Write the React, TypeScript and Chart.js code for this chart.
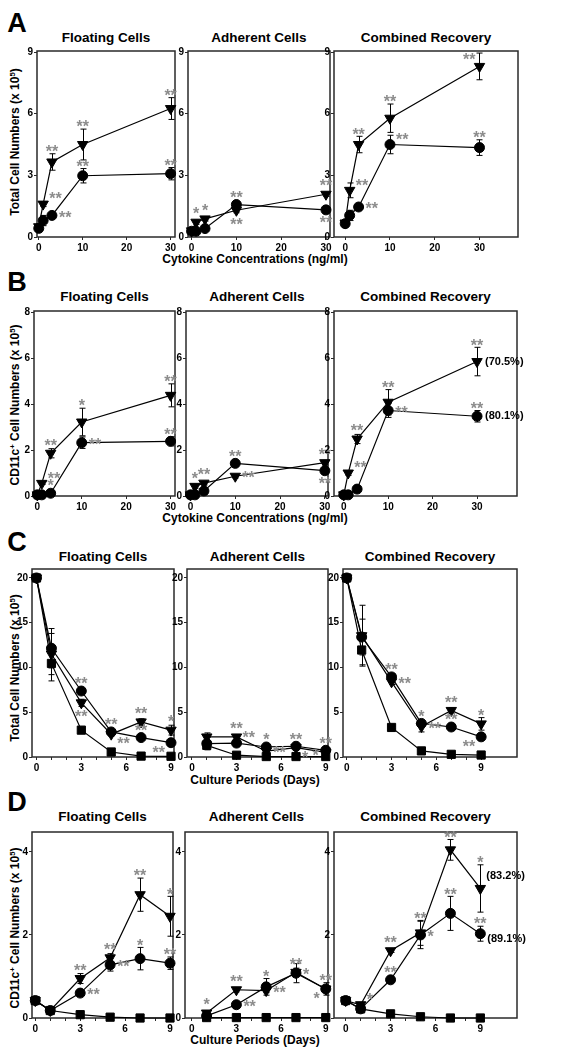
import React, { useEffect, useRef } from 'react';
import { Chart, registerables } from 'chart.js';

Chart.register(...registerables);

const FONT = "'Liberation Sans', Arial, Helvetica, sans-serif";

// ---------- categories ----------
const concentrations = [0, 1, 3, 10, 30];
const cultureDays = [0, 1, 3, 5, 7, 9];
const adherentDays = [1, 3, 5, 7, 9];

// ---------- tick values ----------
const concTicks = [0, 10, 20, 30];
const concTickLabels = [0, 10, 20, 30];
const dayTicks = [0, 1, 2, 3, 4, 5, 6, 7, 8, 9];
const dayTickLabels = [0, 3, 6, 9];
const totalTicksA = [0, 3, 6, 9];
const cd11cTicksB = [0, 2, 4, 6, 8];
const totalTicksC = [0, 5, 10, 15, 20];
const cd11cTicksD = [0, 2, 4];

// ---------- texts ----------
const panelTitles = ['Floating Cells', 'Adherent Cells', 'Combined Recovery'];
const rowLetters = ['A', 'B', 'C', 'D'];
const xTitleConc = 'Cytokine Concentrations (ng/ml)';
const xTitleDays = 'Culture Periods (Days)';

// ---------- A: total cells vs concentration ----------
const aFloTri = [0.5, 1.6, 3.65, 4.5, 6.25];
const aFloTriErr = [0.05, 0.12, 0.4, 0.75, 0.53];
const aFloTriSig = ['', '**', '**', '**', '**'];
const aFloCir = [0.42, 0.8, 1.05, 2.98, 3.08];
const aFloCirErr = [0.05, 0.25, 0.08, 0.35, 0.3];
const aFloCirSig = ['', '', '**', '**', '**'];

const aAdhTri = [0.3, 0.72, 0.88, 1.3, 2.08];
const aAdhTriErr = [0.05, 0.1, 0.1, 0.12, 0.1];
const aAdhTriSig = ['', '*', '*', '**', '**'];
const aAdhCir = [0.28, 0.28, 0.41, 1.58, 1.32];
const aAdhCirErr = [0.05, 0.05, 0.1, 0.1, 0.08];
const aAdhCirSig = ['', '', '', '**', '**'];

const aComTri = [0.68, 2.27, 4.5, 5.78, 8.3];
const aComTriErr = [0.05, 0.36, 0.4, 0.69, 0.65];
const aComTriSig = ['', '**', '**', '**', '**'];
const aComCir = [0.65, 1.05, 1.46, 4.5, 4.35];
const aComCirErr = [0.05, 0.25, 0.12, 0.45, 0.38];
const aComCirSig = ['', '', '**', '**', '**'];

// ---------- B: CD11c+ cells vs concentration ----------
const bFloTri = [0.05, 0.55, 1.86, 3.22, 4.38];
const bFloTriErr = [0.03, 0.05, 0.2, 0.6, 0.5];
const bFloTriSig = ['', '**', '**', '*', '**'];
const bFloCir = [0.05, 0.05, 0.12, 2.32, 2.38];
const bFloCirErr = [0.03, 0.03, 0.05, 0.25, 0.2];
const bFloCirSig = ['', '', '*', '**', '**'];

const bAdhTri = [0.05, 0.42, 0.56, 0.86, 1.45];
const bAdhTriErr = [0.03, 0.08, 0.08, 0.08, 0.1];
const bAdhTriSig = ['', '*', '**', '**', '**'];
const bAdhCir = [0.05, 0.05, 0.22, 1.42, 1.1];
const bAdhCirErr = [0.03, 0.03, 0.15, 0.08, 0.15];
const bAdhCirSig = ['', '', '', '**', '**'];

const bComTri = [0.05, 1.0, 2.48, 4.08, 5.85];
const bComTriErr = [0.03, 0.1, 0.2, 0.55, 0.62];
const bComTriSig = ['', '**', '**', '**', '**'];
const bComTriNote = ['', '', '', '', '(70.5%)'];
const bComCir = [0.05, 0.05, 0.3, 3.72, 3.47];
const bComCirErr = [0.03, 0.03, 0.05, 0.3, 0.25];
const bComCirSig = ['', '', '', '**', '**'];
const bComCirNote = ['', '', '', '', '(80.1%)'];

// ---------- C: total cells vs culture days ----------
const cFloTri = [20, 11.5, 6.05, 2.55, 3.92, 3.0];
const cFloTriErr = [0.2, 2.3, 0.4, 0.2, 0.35, 0.55];
const cFloTriSig = ['', '', '**', '**', '**', '*'];
const cFloCir = [20, 12.15, 7.37, 2.8, 2.17, 1.6];
const cFloCirErr = [0.2, 2.2, 0.2, 0.2, 0.2, 0.2];
const cFloCirSig = ['', '', '**', '**', '**', '**'];
const cFloSq = [20, 10.45, 3.0, 0.56, 0.1, 0.08];
const cFloSqErr = [0.2, 1.95, 0.15, 0.1, 0.05, 0.05];

const cAdhTri = [2.24, 2.24, 0.65, 1.05, 0.52];
const cAdhTriErr = [0.45, 0.15, 0.1, 0.15, 0.1];
const cAdhTriSig = ['', '**', '**', '*', '*'];
const cAdhCir = [1.5, 1.55, 1.12, 1.2, 0.75];
const cAdhCirErr = [0.7, 0.15, 0.15, 0.2, 0.1];
const cAdhCirSig = ['', '**', '*', '**', '**'];
const cAdhSq = [1.3, 0.2, 0.05, 0.05, 0.05];
const cAdhSqErr = [0.2, 0.05, 0.03, 0.03, 0.03];

const cComTri = [20, 13.55, 8.4, 3.4, 5.2, 3.7];
const cComTriErr = [0.2, 3.4, 0.3, 0.6, 0.3, 0.7];
const cComTriSig = ['', '', '**', '**', '**', '*'];
const cComCir = [20, 13.4, 8.95, 3.75, 3.35, 2.25];
const cComCirErr = [0.2, 2.0, 0.3, 0.3, 0.4, 0.2];
const cComCirSig = ['', '', '**', '*', '**', '**'];
const cComSq = [20, 11.95, 3.3, 0.68, 0.3, 0.22];
const cComSqErr = [0.2, 1.65, 0.15, 0.1, 0.05, 0.05];

// ---------- D: CD11c+ cells vs culture days ----------
const dFloTri = [0.42, 0.18, 0.95, 1.45, 2.97, 2.45];
const dFloTriErr = [0.03, 0.04, 0.12, 0.1, 0.4, 0.48];
const dFloTriSig = ['', '', '**', '**', '**', '*'];
const dFloCir = [0.42, 0.18, 0.6, 1.28, 1.43, 1.32];
const dFloCirErr = [0.03, 0.04, 0.04, 0.15, 0.27, 0.15];
const dFloCirSig = ['', '', '**', '**', '*', '**'];
const dFloSq = [0.42, 0.18, 0.08, 0.02, 0.0, 0.0];
const dFloSqErr = [0.03, 0.03, 0.02, 0.01, 0.01, 0.01];

const dAdhTri = [0.12, 0.68, 0.66, 1.1, 0.7];
const dAdhTriErr = [0.03, 0.05, 0.05, 0.1, 0.05];
const dAdhTriSig = ['*', '**', '**', '**', '*'];
const dAdhCir = [0.05, 0.32, 0.75, 1.08, 0.7];
const dAdhCirErr = [0.02, 0.04, 0.2, 0.23, 0.15];
const dAdhCirSig = ['', '**', '*', '*', '**'];
const dAdhSq = [0.01, 0.01, 0.01, 0.01, 0.01];
const dAdhSqErr = [0.01, 0.01, 0.01, 0.01, 0.01];

const dComTri = [0.42, 0.32, 1.62, 2.05, 4.05, 3.12];
const dComTriErr = [0.03, 0.05, 0.04, 0.3, 0.25, 0.57];
const dComTriSig = ['', '*', '**', '**', '**', '*'];
const dComTriNote = ['', '', '', '', '', '(83.2%)'];
const dComCir = [0.42, 0.22, 0.92, 2.0, 2.52, 2.03];
const dComCirErr = [0.03, 0.05, 0.05, 0.33, 0.41, 0.18];
const dComCirSig = ['', '', '**', '*', '**', '**'];
const dComCirNote = ['', '', '', '', '', '(89.1%)'];
const dComSq = [0.42, 0.22, 0.1, 0.03, 0.0, 0.0];
const dComSqErr = [0.03, 0.03, 0.02, 0.01, 0.01, 0.01];

// ---------- annotation placement (layout hints, not data) ----------
const aFloTriAt = ['', 'ru', 't', 't', 't'];
const aFloCirAt = ['', '', 'r', 't', 't'];
const aAdhTriAt = ['', 't', 't', 'b', 't'];
const aAdhCirAt = ['', '', '', 't', 'b'];
const aComTriAt = ['', 'ru', 't', 't', 'tl'];
const aComCirAt = ['', '', 'r', 'ru', 't'];
const bFloTriAt = ['', 'ru', 't', 't', 't'];
const bFloCirAt = ['', '', 't', 'r', 't'];
const bAdhTriAt = ['', 't', 't', 'r', 't'];
const bAdhCirAt = ['', '', '', 't', 'b'];
const bComTriAt = ['', 'ru', 't', 't', 't'];
const bComCirAt = ['', '', '', 'r', 't'];
const cFloTriAt = ['', '', 'b', 'rb', 't', 't'];
const cFloCirAt = ['', '', 't', 't', 't', 'lb'];
const cAdhTriAt = ['', 't', 'r', 'rb', 'l'];
const cAdhCirAt = ['', 'ru', 't', 't', 't'];
const cComTriAt = ['', '', 'r', 'r', 't', 't'];
const cComCirAt = ['', '', 't', 't', 't', 'lb'];
const dFloTriAt = ['', '', 't', 't', 't', 't'];
const dFloCirAt = ['', '', 'r', 'r', 't', 't'];
const dAdhTriAt = ['t', 't', 'r', 't', 'lb'];
const dAdhCirAt = ['', 'r', 't', 'r', 't'];
const dComTriAt = ['', 'ru', 't', 't', 't', 't'];
const dComCirAt = ['', '', 't', 'r', 't', 't'];

type Marker = 'tri' | 'cir' | 'sq';
type Series = {
  x: number[];
  y: number[];
  err: number[];
  sig?: string[];
  sigAt?: string[];
  note?: string[];
  noteAt?: string;
  marker: Marker;
};
type PanelSpec = {
  key: string;
  left: number;
  right: number;
  top: number;
  bottom: number;
  xMin: number;
  xMax: number;
  yMax: number;
  xTicks: number[];
  xLabels: number[];
  yTicks: number[];
  series: Series[];
};

const PAD_L = 30;
const PAD_T = 10;
const PAD_R = 10;
const PAD_B = 18;

const rowA = { top: 51, bottom: 237, yMax: 9.05 };
const rowB = { top: 311, bottom: 496, yMax: 8.05 };
const rowC = { top: 569, bottom: 757, yMax: 21 };
const rowD = { top: 832, bottom: 1018, yMax: 4.48 };

const panels: PanelSpec[] = [
  {
    key: 'A1', left: 37, right: 175, ...rowA, xMin: -0.4, xMax: 31,
    xTicks: concTicks, xLabels: concTickLabels, yTicks: totalTicksA,
    series: [
      { x: concentrations, y: aFloTri, err: aFloTriErr, sig: aFloTriSig, sigAt: aFloTriAt, marker: 'tri' },
      { x: concentrations, y: aFloCir, err: aFloCirErr, sig: aFloCirSig, sigAt: aFloCirAt, marker: 'cir' },
    ],
  },
  {
    key: 'A2', left: 188, right: 330, ...rowA, xMin: -0.8, xMax: 30.9,
    xTicks: concTicks, xLabels: concTickLabels, yTicks: totalTicksA,
    series: [
      { x: concentrations, y: aAdhTri, err: aAdhTriErr, sig: aAdhTriSig, sigAt: aAdhTriAt, marker: 'tri' },
      { x: concentrations, y: aAdhCir, err: aAdhCirErr, sig: aAdhCirSig, sigAt: aAdhCirAt, marker: 'cir' },
    ],
  },
  {
    key: 'A3', left: 334, right: 518, ...rowA, xMin: -2.5, xMax: 38.6,
    xTicks: concTicks, xLabels: concTickLabels, yTicks: totalTicksA,
    series: [
      { x: concentrations, y: aComTri, err: aComTriErr, sig: aComTriSig, sigAt: aComTriAt, marker: 'tri' },
      { x: concentrations, y: aComCir, err: aComCirErr, sig: aComCirSig, sigAt: aComCirAt, marker: 'cir' },
    ],
  },
  {
    key: 'B1', left: 34, right: 175, ...rowB, xMin: -0.75, xMax: 31,
    xTicks: concTicks, xLabels: concTickLabels, yTicks: cd11cTicksB,
    series: [
      { x: concentrations, y: bFloTri, err: bFloTriErr, sig: bFloTriSig, sigAt: bFloTriAt, marker: 'tri' },
      { x: concentrations, y: bFloCir, err: bFloCirErr, sig: bFloCirSig, sigAt: bFloCirAt, marker: 'cir' },
    ],
  },
  {
    key: 'B2', left: 186, right: 328, ...rowB, xMin: -1.0, xMax: 30.7,
    xTicks: concTicks, xLabels: concTickLabels, yTicks: cd11cTicksB,
    series: [
      { x: concentrations, y: bAdhTri, err: bAdhTriErr, sig: bAdhTriSig, sigAt: bAdhTriAt, marker: 'tri' },
      { x: concentrations, y: bAdhCir, err: bAdhCirErr, sig: bAdhCirSig, sigAt: bAdhCirAt, marker: 'cir' },
    ],
  },
  {
    key: 'B3', left: 334, right: 517, ...rowB, xMin: -2.2, xMax: 39,
    xTicks: concTicks, xLabels: concTickLabels, yTicks: cd11cTicksB,
    series: [
      { x: concentrations, y: bComTri, err: bComTriErr, sig: bComTriSig, sigAt: bComTriAt, note: bComTriNote, noteAt: 'r', marker: 'tri' },
      { x: concentrations, y: bComCir, err: bComCirErr, sig: bComCirSig, sigAt: bComCirAt, note: bComCirNote, noteAt: 'r', marker: 'cir' },
    ],
  },
  {
    key: 'C1', left: 32, right: 174, ...rowC, xMin: -0.3, xMax: 9.2,
    xTicks: dayTicks, xLabels: dayTickLabels, yTicks: totalTicksC,
    series: [
      { x: cultureDays, y: cFloTri, err: cFloTriErr, sig: cFloTriSig, sigAt: cFloTriAt, marker: 'tri' },
      { x: cultureDays, y: cFloCir, err: cFloCirErr, sig: cFloCirSig, sigAt: cFloCirAt, marker: 'cir' },
      { x: cultureDays, y: cFloSq, err: cFloSqErr, marker: 'sq' },
    ],
  },
  {
    key: 'C2', left: 187, right: 328, ...rowC, xMin: -0.33, xMax: 9.15,
    xTicks: dayTicks, xLabels: dayTickLabels, yTicks: totalTicksC,
    series: [
      { x: adherentDays, y: cAdhTri, err: cAdhTriErr, sig: cAdhTriSig, sigAt: cAdhTriAt, marker: 'tri' },
      { x: adherentDays, y: cAdhCir, err: cAdhCirErr, sig: cAdhCirSig, sigAt: cAdhCirAt, marker: 'cir' },
      { x: adherentDays, y: cAdhSq, err: cAdhSqErr, marker: 'sq' },
    ],
  },
  {
    key: 'C3', left: 343, right: 517, ...rowC, xMin: -0.25, xMax: 11.4,
    xTicks: dayTicks, xLabels: dayTickLabels, yTicks: totalTicksC,
    series: [
      { x: cultureDays, y: cComTri, err: cComTriErr, sig: cComTriSig, sigAt: cComTriAt, marker: 'tri' },
      { x: cultureDays, y: cComCir, err: cComCirErr, sig: cComCirSig, sigAt: cComCirAt, marker: 'cir' },
      { x: cultureDays, y: cComSq, err: cComSqErr, marker: 'sq' },
    ],
  },
  {
    key: 'D1', left: 32, right: 173, ...rowD, xMin: -0.22, xMax: 9.2,
    xTicks: dayTicks, xLabels: dayTickLabels, yTicks: cd11cTicksD,
    series: [
      { x: cultureDays, y: dFloTri, err: dFloTriErr, sig: dFloTriSig, sigAt: dFloTriAt, marker: 'tri' },
      { x: cultureDays, y: dFloCir, err: dFloCirErr, sig: dFloCirSig, sigAt: dFloCirAt, marker: 'cir' },
      { x: cultureDays, y: dFloSq, err: dFloSqErr, marker: 'sq' },
    ],
  },
  {
    key: 'D2', left: 185, right: 328, ...rowD, xMin: -0.45, xMax: 9.15,
    xTicks: dayTicks, xLabels: dayTickLabels, yTicks: cd11cTicksD,
    series: [
      { x: adherentDays, y: dAdhTri, err: dAdhTriErr, sig: dAdhTriSig, sigAt: dAdhTriAt, marker: 'tri' },
      { x: adherentDays, y: dAdhCir, err: dAdhCirErr, sig: dAdhCirSig, sigAt: dAdhCirAt, marker: 'cir' },
      { x: adherentDays, y: dAdhSq, err: dAdhSqErr, marker: 'sq' },
    ],
  },
  {
    key: 'D3', left: 334, right: 517, ...rowD, xMin: -0.78, xMax: 11.45,
    xTicks: dayTicks, xLabels: dayTickLabels, yTicks: cd11cTicksD,
    series: [
      { x: cultureDays, y: dComTri, err: dComTriErr, sig: dComTriSig, sigAt: dComTriAt, note: dComTriNote, noteAt: 'ru', marker: 'tri' },
      { x: cultureDays, y: dComCir, err: dComCirErr, sig: dComCirSig, sigAt: dComCirAt, note: dComCirNote, noteAt: 'rd', marker: 'cir' },
      { x: cultureDays, y: dComSq, err: dComSqErr, marker: 'sq' },
    ],
  },
];

const markerRadius = (m: Marker) => (m === 'tri' ? 6 : m === 'sq' ? 5.8 : 5);
const markerStyle = (m: Marker) => (m === 'tri' ? 'triangle' : m === 'sq' ? 'rect' : 'circle');

const STAR_SIZE = 16;

function Panel({ spec }: { spec: PanelSpec }) {
  const ref = useRef<HTMLCanvasElement | null>(null);
  const w = spec.right - spec.left + PAD_L + PAD_R;
  const h = spec.bottom - spec.top + PAD_T + PAD_B;

  useEffect(() => {
    const canvas = ref.current;
    if (!canvas) return;

    const annot = {
      id: 'annot' + spec.key,
      beforeDatasetsDraw(chart: any) {
        const { ctx, chartArea: a } = chart;
        ctx.save();
        ctx.strokeStyle = '#2a2a2a';
        ctx.lineWidth = 1.5;
        ctx.strokeRect(a.left, a.top, a.right - a.left, a.bottom - a.top);
        ctx.restore();
      },
      afterDatasetsDraw(chart: any) {
        const { ctx } = chart;
        const xs = chart.scales.x;
        const ys = chart.scales.y;
        const unit = Math.abs(ys.getPixelForValue(0) - ys.getPixelForValue(1));
        ctx.save();
        ctx.strokeStyle = '#000';
        ctx.lineWidth = 1;
        spec.series.forEach((s) => {
          s.x.forEach((xv, i) => {
            const e = s.err[i] * unit;
            if (e < 1) return;
            const px = Math.round(xs.getPixelForValue(xv)) + 0.5;
            const py = ys.getPixelForValue(s.y[i]);
            ctx.beginPath();
            ctx.moveTo(px, py - e);
            ctx.lineTo(px, py + e);
            ctx.moveTo(px - 3, py - e);
            ctx.lineTo(px + 3, py - e);
            ctx.moveTo(px - 3, py + e);
            ctx.lineTo(px + 3, py + e);
            ctx.stroke();
          });
        });
        ctx.restore();
      },
      afterDraw(chart: any) {
        const { ctx } = chart;
        const xs = chart.scales.x;
        const ys = chart.scales.y;
        const unit = Math.abs(ys.getPixelForValue(0) - ys.getPixelForValue(1));
        const starShift = STAR_SIZE * 0.24;
        ctx.save();
        spec.series.forEach((s) => {
          const r = markerRadius(s.marker);
          s.x.forEach((xv, i) => {
            const px = xs.getPixelForValue(xv);
            const py = ys.getPixelForValue(s.y[i]);
            const e = s.err[i] * unit;
            const topY = py - Math.max(r, e);
            const botY = py + Math.max(r, e);
            const txt = s.sig ? s.sig[i] : '';
            const at = s.sigAt ? s.sigAt[i] : '';
            if (txt) {
              ctx.font = `bold ${STAR_SIZE}px ${FONT}`;
              ctx.fillStyle = '#8c8c8c';
              ctx.textBaseline = 'middle';
              let tx = px;
              let cy = py;
              let align: CanvasTextAlign = 'center';
              switch (at) {
                case 't': cy = topY - 5; break;
                case 'b': cy = botY + 5; break;
                case 'r': tx = px + 7; cy = py - 1; align = 'left'; break;
                case 'ru': tx = px + 6; cy = py - 8; align = 'left'; break;
                case 'rb': tx = px + 6; cy = py + 7; align = 'left'; break;
                case 'l': tx = px - 7; cy = py; align = 'right'; break;
                case 'lb': tx = px - 6; cy = py + 7; align = 'right'; break;
                case 'tl': tx = px - 4; cy = py - 10; align = 'right'; break;
                default: cy = topY - 5;
              }
              ctx.textAlign = align;
              ctx.fillText(txt, tx, cy + starShift);
            }
            const note = s.note ? s.note[i] : '';
            if (note) {
              ctx.font = `bold 11px ${FONT}`;
              ctx.fillStyle = '#000';
              ctx.textBaseline = 'middle';
              ctx.textAlign = 'left';
              let nx = px + 8;
              let ny = py;
              if (s.noteAt === 'ru') { nx = px + 6; ny = py - 12; }
              if (s.noteAt === 'rd') { nx = px + 7; ny = py + 5; }
              ctx.fillText(note, nx, ny);
            }
          });
        });
        ctx.restore();
      },
    };

    const tickFont = { family: FONT, size: 10, weight: 'bold' as const };

    const chart = new Chart(canvas, {
      type: 'line',
      data: {
        datasets: spec.series.map((s) => ({
          data: s.x.map((xv, i) => ({ x: xv, y: s.y[i] })),
          borderColor: '#000',
          backgroundColor: '#000',
          borderWidth: 1.2,
          pointStyle: markerStyle(s.marker),
          pointRadius: markerRadius(s.marker),
          pointRotation: s.marker === 'tri' ? 180 : 0,
          pointBackgroundColor: '#000',
          pointBorderColor: '#000',
          pointBorderWidth: 1,
          tension: 0,
          fill: false,
          clip: false as any,
        })),
      },
      options: {
        animation: false,
        responsive: false,
        devicePixelRatio: 1,
        events: [],
        layout: { padding: { top: PAD_T, right: PAD_R, left: 0, bottom: 0 } },
        plugins: {
          legend: { display: false },
          tooltip: { enabled: false },
          title: { display: false },
        },
        scales: {
          x: {
            type: 'linear',
            min: spec.xMin,
            max: spec.xMax,
            afterBuildTicks: (sc: any) => {
              sc.ticks = spec.xTicks.map((v) => ({ value: v }));
            },
            afterFit: (sc: any) => {
              sc.height = PAD_B;
            },
            ticks: {
              autoSkip: false,
              maxRotation: 0,
              padding: 2,
              color: '#000',
              font: tickFont,
              callback: (v: any) => (spec.xLabels.includes(Number(v)) ? String(v) : ''),
            },
            grid: { drawOnChartArea: false, drawTicks: true, tickLength: 3, color: '#2a2a2a', lineWidth: 1 },
            border: { display: false },
          },
          y: {
            type: 'linear',
            min: 0,
            max: spec.yMax,
            afterBuildTicks: (sc: any) => {
              sc.ticks = spec.yTicks.map((v) => ({ value: v }));
            },
            afterFit: (sc: any) => {
              sc.width = PAD_L;
            },
            ticks: {
              autoSkip: false,
              padding: 1,
              color: '#000',
              font: tickFont,
              callback: (v: any) => String(v),
            },
            grid: { drawOnChartArea: false, drawTicks: true, tickLength: 3, color: '#2a2a2a', lineWidth: 1 },
            border: { display: false },
          },
        },
      } as any,
      plugins: [annot],
    });
    return () => chart.destroy();
  }, [spec]);

  return (
    <canvas
      ref={ref}
      width={w}
      height={h}
      style={{ position: 'absolute', left: spec.left - PAD_L, top: spec.top - PAD_T, width: w, height: h }}
    />
  );
}

const titleYs = [38, 297, 557, 817];
const letterYs = [23, 282, 542, 802];
const xTitleYs = [259, 518, 780, 1040];
const yTitleYs = [142, 405, 668, 928];

function Centered({ x, y, size, children, rotate, color }: any) {
  return (
    <div
      style={{
        position: 'absolute',
        left: x,
        top: y,
        transform: `translate(-50%, -50%)${rotate ? ' rotate(-90deg)' : ''}`,
        fontFamily: FONT,
        fontWeight: 'bold',
        fontSize: size,
        lineHeight: 1,
        whiteSpace: 'nowrap',
        color: color || '#000',
      }}
    >
      {children}
    </div>
  );
}

export default function App() {
  const sup = { fontSize: '0.65em', verticalAlign: '0.55em', lineHeight: 0 } as React.CSSProperties;
  return (
    <div style={{ position: 'absolute', left: 0, top: 0, width: 562, height: 1050, background: '#fff', overflow: 'hidden' }}>
      {rowLetters.map((L, r) => (
        <Centered key={L} x={17} y={letterYs[r]} size={27}>{L}</Centered>
      ))}
      {rowLetters.map((_, r) =>
        panelTitles.map((t, c) => {
          const p = panels[r * 3 + c];
          return (
            <Centered key={`${r}-${c}`} x={(p.left + p.right) / 2} y={titleYs[r]} size={13.5}>{t}</Centered>
          );
        })
      )}
      {xTitleYs.map((y, r) => (
        <Centered key={`xt${r}`} x={255} y={y} size={12}>{r < 2 ? xTitleConc : xTitleDays}</Centered>
      ))}
      {yTitleYs.map((y, r) => (
        <Centered key={`yt${r}`} x={15} y={y} size={12} rotate>
          {r % 2 === 0 ? (
            <span>Total Cell Numbers (x 10<span style={sup}>5</span>)</span>
          ) : (
            <span>CD11c<span style={sup}>+</span> Cell Numbers (x 10<span style={sup}>5</span>)</span>
          )}
        </Centered>
      ))}
      {panels.map((p) => (
        <Panel key={p.key} spec={p} />
      ))}
    </div>
  );
}
